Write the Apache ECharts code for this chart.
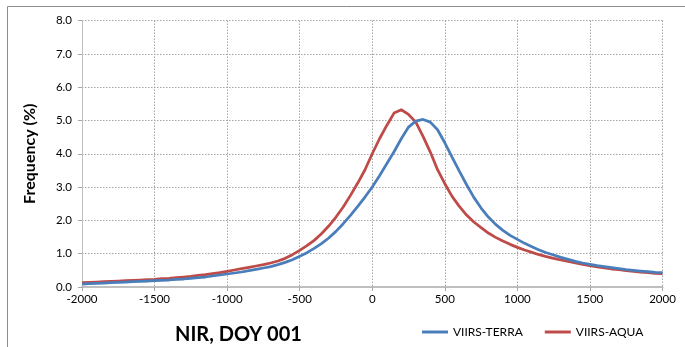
<!DOCTYPE html>
<html>
<head>
<meta charset="utf-8">
<script src="https://cdn.jsdelivr.net/npm/echarts@6/dist/echarts.min.js"></script>
<style>
  html, body { margin: 0; padding: 0; background: #ffffff; }
  #chart { width: 685px; height: 347px; }
</style>
</head>
<body>
<div id="chart"></div>
<script>
// Difference bins (x) and frequency (%) of each sensor pair
const binCenters = [];
for (let v = -2000; v <= 2000; v += 50) binCenters.push(v);

const terraFreq = [
  0.09, 0.10, 0.11, 0.12, 0.13, 0.14, 0.15, 0.16, 0.17, 0.18,
  0.19, 0.20, 0.21, 0.23, 0.24, 0.26, 0.28, 0.30, 0.33, 0.36,
  0.39, 0.42, 0.45, 0.49, 0.53, 0.57, 0.61, 0.67, 0.74, 0.82,
  0.92, 1.03, 1.16, 1.30, 1.47, 1.67, 1.90, 2.15, 2.42, 2.70,
  3.00, 3.34, 3.70, 4.06, 4.45, 4.80, 4.98, 5.03, 4.95, 4.72,
  4.33, 3.90, 3.48, 3.07, 2.69, 2.37, 2.10, 1.88, 1.70, 1.55,
  1.43, 1.31, 1.21, 1.11, 1.03, 0.96, 0.89, 0.83, 0.77, 0.72,
  0.68, 0.64, 0.61, 0.58, 0.55, 0.52, 0.50, 0.48, 0.46, 0.44,
  0.43
];

const aquaFreq = [
  0.13, 0.14, 0.15, 0.16, 0.17, 0.18, 0.19, 0.20, 0.21, 0.22,
  0.23, 0.25, 0.26, 0.28, 0.30, 0.32, 0.35, 0.37, 0.40, 0.43,
  0.47, 0.51, 0.55, 0.59, 0.63, 0.67, 0.72, 0.78, 0.86, 0.97,
  1.10, 1.24, 1.40, 1.60, 1.83, 2.10, 2.40, 2.75, 3.12, 3.52,
  4.00, 4.45, 4.85, 5.22, 5.32, 5.18, 4.95, 4.52, 4.05, 3.52,
  3.10, 2.72, 2.42, 2.16, 1.95, 1.78, 1.62, 1.49, 1.38, 1.28,
  1.19, 1.11, 1.04, 0.97, 0.91, 0.86, 0.81, 0.77, 0.72, 0.68,
  0.64, 0.60, 0.57, 0.54, 0.52, 0.49, 0.47, 0.45, 0.43, 0.41,
  0.40
];

const seriesNames = ['VIIRS-TERRA', 'VIIRS-AQUA'];
const chartTitle = 'NIR, DOY 001';
const yAxisTitle = 'Frequency (%)';

const pairs = (ys) => binCenters.map((x, i) => [x, ys[i]]);

const FONT = 'Lato, "Open Sans", "Noto Sans", sans-serif';
const chart = echarts.init(document.getElementById('chart'), null, { renderer: 'canvas' });

chart.setOption({
  animation: false,
  backgroundColor: '#ffffff',
  textStyle: { fontFamily: FONT },
  grid: { left: 82, right: 22.5, top: 20.5, bottom: 60, containLabel: false },
  title: {
    text: chartTitle,
    left: 170,
    top: 320,
    textStyle: { fontFamily: FONT, fontSize: 20, fontWeight: 'bold', color: '#000000' }
  },
  legend: {
    data: seriesNames,
    left: 422,
    top: 326,
    padding: 0,
    itemWidth: 26,
    itemHeight: 3,
    itemGap: 22,
    icon: 'rect',
    textStyle: { fontFamily: FONT, fontSize: 12, color: '#000000' }
  },
  xAxis: {
    type: 'value',
    min: -2000,
    max: 2000,
    interval: 500,
    axisLine: { show: true, onZero: false, lineStyle: { color: '#bfbfbf', width: 2 } },
    axisTick: { show: true, length: 4, lineStyle: { color: '#a6a6a6' } },
    axisLabel: {
      fontFamily: FONT, fontSize: 11.5, color: '#000000', margin: 6,
      formatter: (v) => String(v)
    },
    splitLine: { show: true, lineStyle: { color: '#a6a6a6', type: [1.5, 1.5], width: 1 } }
  },
  yAxis: {
    type: 'value',
    min: 0,
    max: 8,
    interval: 1,
    name: yAxisTitle,
    nameLocation: 'middle',
    nameGap: 44,
    nameTextStyle: { fontFamily: FONT, fontSize: 16, fontWeight: 'bold', color: '#000000' },
    axisLine: { show: true, onZero: false, lineStyle: { color: '#bfbfbf', width: 1 } },
    axisTick: { show: true, length: 4, lineStyle: { color: '#a6a6a6' } },
    axisLabel: {
      fontFamily: FONT, fontSize: 11.5, color: '#000000', margin: 10,
      formatter: (v) => v.toFixed(1)
    },
    splitLine: { show: true, lineStyle: { color: '#a6a6a6', type: [1.5, 1.5], width: 1 } }
  },
  series: [
    {
      name: seriesNames[0],
      type: 'line',
      data: pairs(terraFreq),
      showSymbol: false,
      symbol: 'none',
      color: '#4a7ebb',
      lineStyle: { color: '#4a7ebb', width: 2.75 },
      z: 3
    },
    {
      name: seriesNames[1],
      type: 'line',
      data: pairs(aquaFreq),
      showSymbol: false,
      symbol: 'none',
      color: '#be4b48',
      lineStyle: { color: '#be4b48', width: 2.75 },
      z: 2
    }
  ],
  graphic: [
    {
      type: 'polyline',
      silent: true,
      shape: { points: [[7.5, 347], [7.5, 6.5], [685, 6.5]] },
      style: { stroke: '#8c8c8c', lineWidth: 1, fill: null }
    }
  ]
});
</script>
</body>
</html>
